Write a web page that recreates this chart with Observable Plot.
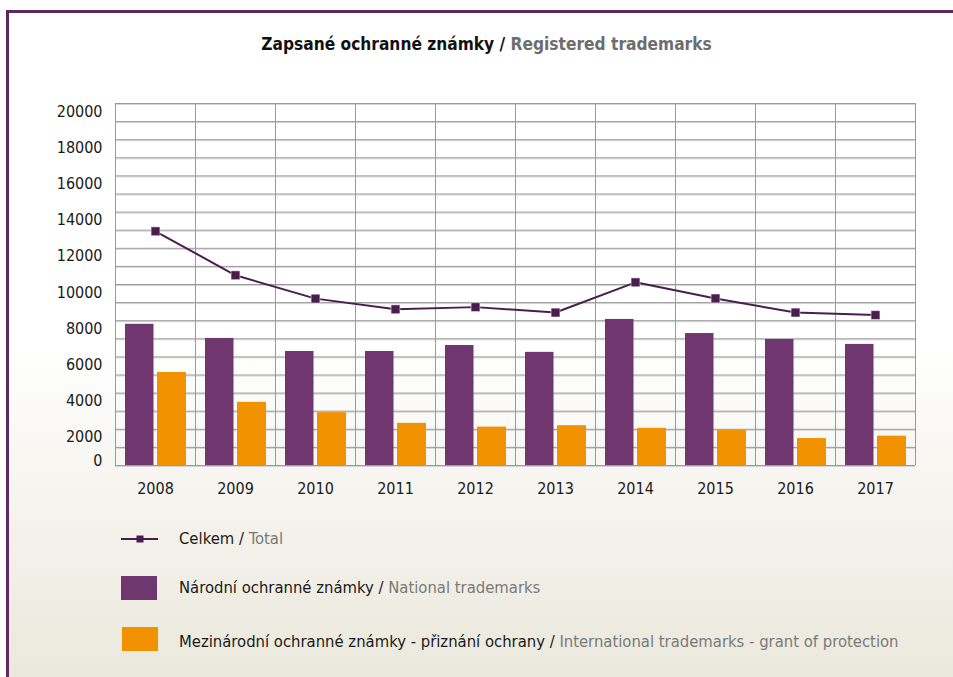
<!DOCTYPE html>
<html>
<head>
<meta charset="utf-8">
<script src="https://cdn.jsdelivr.net/npm/d3@7"></script>
<script src="https://cdn.jsdelivr.net/npm/@observablehq/plot@0.6"></script>
<style>
  html, body { margin: 0; padding: 0; background: #fff; }
  #wrap { position: relative; width: 953px; height: 677px; overflow: hidden;
          font-family: "DejaVu Sans Condensed", "DejaVu Sans", sans-serif; font-stretch: condensed; }
  #frame { position: absolute; left: 6px; top: 10px; right: 0; bottom: 0;
           border-top: 3px solid #5c2a5f; border-left: 3px solid #5c2a5f;
           background: linear-gradient(to bottom, #ffffff 0%, #ffffff 50%, #f7f6f1 68%, #ebe8dc 100%); }
  #title { position: absolute; left: 0; width: 973px; top: 33px; text-align: center;
           font-weight: bold; font-size: 17.2px; color: #111; line-height: 22px; }
  #title .en { color: #6d6d6d; }
  #chart { position: absolute; left: 0; top: 0; }
  .leg { position: absolute; left: 179px; font-size: 16.5px; color: #1a1a1a; line-height: 24px; white-space: nowrap; }
  .leg .en { color: #7a7a7a; }
  .sw { position: absolute; width: 36px; height: 24px; }
</style>
</head>
<body>
<div id="wrap">
  <div id="frame"></div>
  <div id="title">Zapsané ochranné známky / <span class="en">Registered trademarks</span></div>
  <div id="chart"></div>
  <svg id="lineIcon" style="position:absolute;left:121px;top:534px" width="38" height="10">
    <line x1="0" y1="5" x2="37" y2="5" stroke="#4b1d4e" stroke-width="2"></line>
    <rect x="15.5" y="1.5" width="7" height="7" fill="#4b1d4e"></rect>
  </svg>
  <div class="leg" style="top:527px">Celkem / <span class="en">Total</span></div>
  <div class="sw" style="left:121px;top:576px;background:#70366f"></div>
  <div class="leg" style="top:576px">Národní ochranné známky / <span class="en">National trademarks</span></div>
  <div class="sw" style="left:122px;top:627px;background:#f39200"></div>
  <div class="leg" style="top:630px">Mezinárodní ochranné známky - přiznání ochrany / <span class="en">International trademarks - grant of protection</span></div>
</div>
<script>
const years = [2008, 2009, 2010, 2011, 2012, 2013, 2014, 2015, 2016, 2017];
const national = [7800, 7020, 6300, 6300, 6630, 6250, 8070, 7290, 6960, 6690];
const international = [5140, 3490, 2920, 2330, 2120, 2200, 2050, 1940, 1490, 1620];
const total = [12940, 10510, 9220, 8630, 8750, 8450, 10120, 9230, 8450, 8310];
const yTicks = [0, 2000, 4000, 6000, 8000, 10000, 12000, 14000, 16000, 18000, 20000];
const yGrid = d3.range(0, 20001, 1000);

const natData = years.map((year, i) => ({year, v: national[i]}));
const intData = years.map((year, i) => ({year, v: international[i]}));
const totData = years.map((year, i) => ({year, v: total[i]}));
const xBounds = years.map(y => y - 0.5).concat([years[years.length - 1] + 0.5]);

const font = '"DejaVu Sans Condensed", "DejaVu Sans", sans-serif';

const chart = Plot.plot({
  width: 953,
  height: 520,
  marginLeft: 115,
  marginRight: 38,
  marginTop: 103,
  marginBottom: 55,
  x: {domain: [years[0] - 0.5, years[years.length - 1] + 0.5]},
  y: {domain: [0, 20000]},
  style: {background: "transparent", fontFamily: font, fontStretch: "condensed", fontSize: "16px", color: "#1a1a1a", overflow: "visible"},
  marks: [
    Plot.ruleY(yGrid, {stroke: "#d4d4d4", dy: 1}),
    Plot.ruleY(yGrid, {stroke: "#9a9a9a"}),
    Plot.ruleX(xBounds, {stroke: "#9a9a9a"}),
    Plot.rectY(natData, {x1: d => d.year - 0.5, x2: d => d.year + 0.5, y1: d => 0, y2: "v",
      fill: "#70366f", insetLeft: 10, insetRight: 41.5}),
    Plot.rectY(intData, {x1: d => d.year - 0.5, x2: d => d.year + 0.5, y1: d => 0, y2: "v",
      fill: "#f39200", insetLeft: 42, insetRight: 9}),
    Plot.ruleY([0], {stroke: "#9a9a9a"}),
    Plot.lineY(totData, {x: "year", y: "v", stroke: "#4b1d4e", strokeWidth: 2}),
    Plot.dot(totData, {x: "year", y: "v", symbol: "square", r: 5, fill: "#4b1d4e",
      stroke: "#ffffff", strokeOpacity: 0.5, strokeWidth: 1}),
    Plot.axisY(yTicks.filter(t => t > 0), {tickSize: 0, tickPadding: 13, dy: 8, fontSize: 16,
      tickFormat: d => String(d), label: null}),
    Plot.axisY([0], {tickSize: 0, tickPadding: 13, dy: -5, fontSize: 16,
      tickFormat: d => String(d), label: null}),
    Plot.axisX(years, {tickSize: 0, tickPadding: 17, fontSize: 16,
      tickFormat: d => String(d), label: null})
  ]
});
document.getElementById("chart").appendChild(chart);
</script>
</body>
</html>
